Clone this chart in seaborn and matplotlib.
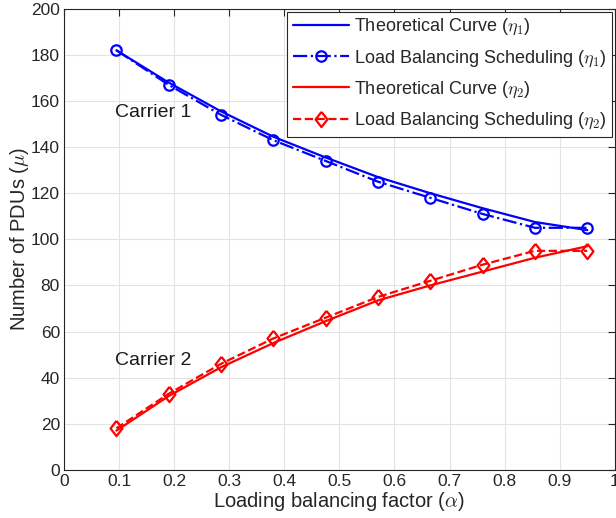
import matplotlib
matplotlib.use("Agg")
import matplotlib.pyplot as plt
import seaborn as sns
import pandas as pd

alpha = [0.095, 0.19, 0.285, 0.38, 0.475, 0.57, 0.665, 0.76, 0.855, 0.95]
theory_eta1 = [182, 168, 155.5, 144.5, 135.5, 127, 120, 113.5, 107.5, 104]
lbs_eta1 = [182, 167, 154, 143, 134, 125, 118, 111, 105, 105]
theory_eta2 = [17, 32, 44.5, 55, 64.5, 73.5, 80, 86, 92, 97]
lbs_eta2 = [18, 33, 46, 57, 66, 75, 82, 89, 95, 95]

df = pd.DataFrame({"alpha": alpha, "t1": theory_eta1, "l1": lbs_eta1,
                   "t2": theory_eta2, "l2": lbs_eta2})

sns.set_style("white")
plt.rcParams["font.family"] = ["Liberation Sans", "DejaVu Sans"]
plt.rcParams["mathtext.fontset"] = "cm"

# taller-than-wide diamond like the MATLAB one
diamond = [(0, 1), (0.78, 0), (0, -1), (-0.78, 0), (0, 1)]

fig = plt.figure(figsize=(6.16, 5.18), dpi=100)
ax = fig.add_axes([0.104, 0.093, 0.894, 0.89])

sns.lineplot(data=df, x="alpha", y="t1", ax=ax, color="blue", lw=1.6,
             label=r"Theoretical Curve ($\eta_1$)")
sns.lineplot(data=df, x="alpha", y="l1", ax=ax, color="blue", lw=1.6,
             linestyle="-.", marker="o", markersize=7.5, mfc="none", mec="blue",
             mew=1.6, label=r"Load Balancing Scheduling ($\eta_1$)")
sns.lineplot(data=df, x="alpha", y="t2", ax=ax, color="red", lw=1.6,
             label=r"Theoretical Curve ($\eta_2$)")
sns.lineplot(data=df, x="alpha", y="l2", ax=ax, color="red", lw=1.6,
             linestyle="--", marker=diamond, markersize=11, mfc="none", mec="red",
             mew=1.6, label=r"Load Balancing Scheduling ($\eta_2$)")

ax.text(0.093, 155, "Carrier 1", fontsize=14, va="center", ha="left", color="#1a1a1a")
ax.text(0.093, 47.5, "Carrier 2", fontsize=14, va="center", ha="left", color="#1a1a1a")

ax.set_xlim(0, 1)
ax.set_ylim(0, 200)
ax.set_xticks([i / 10 for i in range(11)])
ax.set_xticklabels(["0", "0.1", "0.2", "0.3", "0.4", "0.5", "0.6", "0.7", "0.8", "0.9", "1"])
ax.set_yticks(range(0, 201, 20))
ax.grid(True, color="#e3e3e3", lw=0.8)
ax.tick_params(direction="in", top=True, right=True, labelsize=12.5, length=5,
               color="#262626", labelcolor="#262626", pad=3)
for s in ax.spines.values():
    s.set_color("#262626")
    s.set_linewidth(0.8)
ax.set_xlabel(r"Loading balancing factor ($\alpha$)", fontsize=14.5, color="#262626", labelpad=1)
ax.set_ylabel(r"Number of PDUs ($\mu$)", fontsize=14.5, color="#262626", labelpad=0)

leg = ax.legend(loc="upper right", fontsize=13, fancybox=False, framealpha=1,
                edgecolor="#262626", borderpad=0.3, labelspacing=0.6,
                handlelength=3.1, handletextpad=0.3, borderaxespad=0.15)
leg.get_frame().set_linewidth(0.8)

fig.savefig("out.png", dpi=100)
